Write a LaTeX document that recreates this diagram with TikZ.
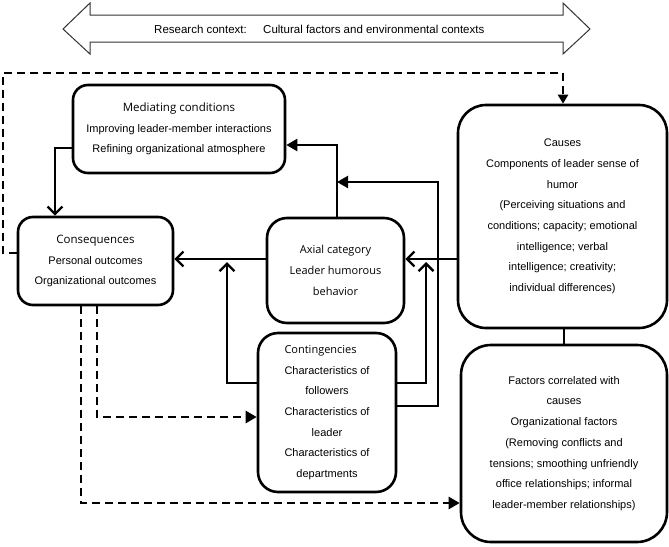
\documentclass[tikz,border=0pt]{standalone}
\usepackage{fontspec}
\usepackage{calc}
\setmainfont{Liberation Sans}
\newfontfamily\hdfont{Open Sans}
\usetikzlibrary{arrows.meta}
\begin{document}
\begin{tikzpicture}[x=1pt,y=-1pt,
  box/.style={draw, line width=2.6pt, align=center, inner sep=0pt,
    font=\fontsize{11}{20.7}\selectfont, text=black},
  conn/.style={line width=2.3pt},
  dconn/.style={line width=2.5pt, dash pattern=on 8pt off 5pt},
  openarr/.style={-{Straight Barb[length=7.5pt,width=15pt]}},
  fillarr/.style={-{Triangle[length=11pt,width=12pt]}},
  lbl/.style={font=\fontsize{11.5}{14}\selectfont, text=black, inner sep=0pt, anchor=west},
]
\useasboundingbox (0,0) rectangle (669,546);

% research context double arrow
\draw[line width=1pt, draw=black!80] (63,29) -- (90,3) -- (90,15) -- (563,15) -- (563,3) -- (590,29)
  -- (563,54) -- (563,42) -- (90,42) -- (90,54) -- cycle;
\node[lbl] (rc) at (154,29) {Research context:};
\node[lbl] (cf) at (263,29) {Cultural factors and environmental contexts};

% boxes
\node[box, rounded corners=15pt, minimum width=212pt, minimum height=88pt] (med) at (179,129)
  {{\hdfont\fontsize{11.5}{20.7}\selectfont Mediating conditions}\\Improving leader-member interactions\\Refining organizational atmosphere};
\node[box, rounded corners=15pt, minimum width=155pt, minimum height=88pt] (cons) at (95.5,261)
  {{\hdfont\fontsize{11.5}{20.7}\selectfont Consequences\hspace{10pt}}\\Personal outcomes\\Organizational outcomes};
\node[box, rounded corners=20pt, minimum width=137pt, minimum height=105pt, font=\hdfont\fontsize{11}{20.7}\selectfont] (axial) at (335.5,270.5)
  {Axial category\\Leader humorous\\behavior};
\node[box, rounded corners=20pt, minimum width=138pt, minimum height=159pt] (cont) at (327,412.5)
  {\makebox[\widthof{Characteristics of}][l]{\hdfont Contingencies}\\Characteristics of\\followers\\Characteristics of\\leader\\Characteristics of\\departments};
\node[box, rounded corners=28pt, minimum width=209pt, minimum height=223pt] (causes) at (562.5,216.5)
  {Causes\\Components of leader sense of\\humor\\(Perceiving situations and\\conditions; capacity; emotional\\intelligence; verbal\\intelligence; creativity;\\individual differences)};
\node[box, rounded corners=30pt, minimum width=206pt, minimum height=197pt] (factors) at (564,443.5)
  {Factors correlated with\hspace{14pt}\\causes\\Organizational factors\\(Removing conflicts and\\tensions; smoothing unfriendly\\office relationships; informal\\leader-member relationships)};

% helper coordinates
\coordinate (p1) at (55,148);
\coordinate (h1) at (0,259);
\coordinate (v1) at (337,145);
\coordinate (c1) at (438,406);
\coordinate (c2) at (438,182);
\coordinate (r1) at (426,383);
\coordinate (rt) at (426,262);
\coordinate (l1) at (227,383);
\coordinate (lt) at (227,262);
\coordinate (d1) at (97,417);
\coordinate (d2) at (81,503);
\coordinate (t1) at (3,253);
\coordinate (t2) at (563,73);

% solid connectors
\draw[conn, openarr] (p1 -| med.west) -- (p1) -- (p1 |- cons.north);
\draw[conn, openarr] (h1 -| axial.west) -- (h1 -| cons.east);
\draw[conn, openarr] (h1 -| causes.west) -- (h1 -| axial.east);
\draw[conn, fillarr] (v1 |- axial.north) -- (v1) -- (v1 -| med.east);
\draw[conn, fillarr] (c1 -| cont.east) -- (c1) -- (c2) -- (c2 -| v1);
\draw[conn, openarr] (r1 -| cont.east) -- (r1) -- (rt);
\draw[conn, openarr] (l1 -| cont.west) -- (l1) -- (lt);
\draw[line width=2.8pt] (causes.south -| factors.north) -- (factors.north);

% dashed connectors
\draw[dconn, fillarr] (d1 |- cons.south) -- (d1) -- (d1 -| cont.west);
\draw[dconn, fillarr] (d2 |- cons.south) -- (d2) -- (d2 -| factors.west);
\draw[dconn, -{Triangle[length=9pt,width=10pt]}] (t1 -| cons.west) -- (t1) -- (t1 |- t2) -- (t2) -- (t2 |- causes.north);
\end{tikzpicture}
\end{document}
